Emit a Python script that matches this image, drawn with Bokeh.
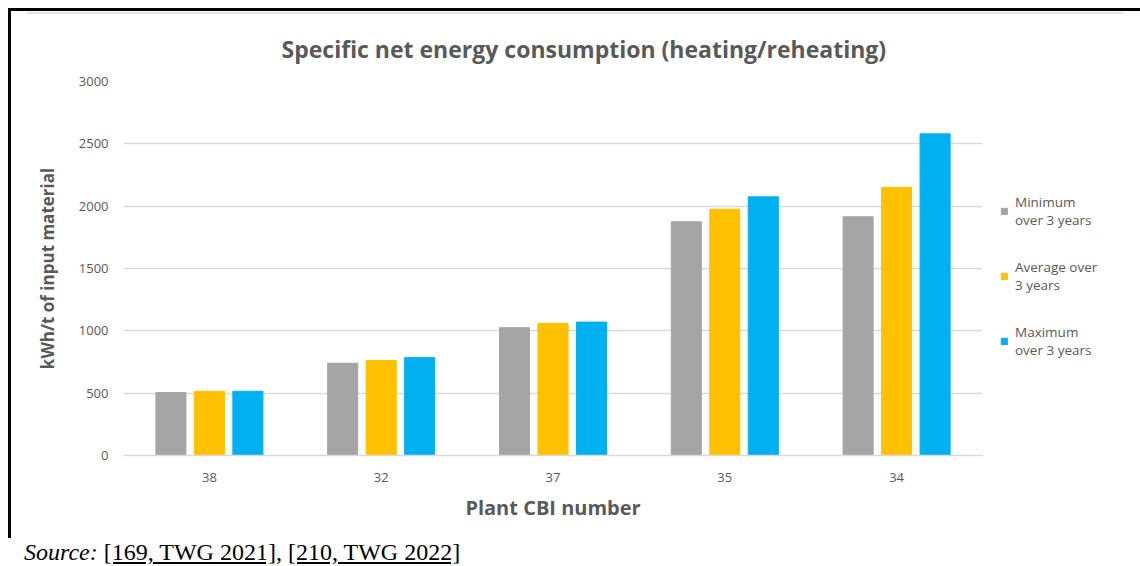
from bokeh.plotting import figure
from bokeh.models import (ColumnDataSource, FactorRange, Range1d, FixedTicker,
                          Legend, LegendItem, Div)
from bokeh.layouts import column, row
from bokeh.transform import dodge
from bokeh.embed import file_html
from bokeh.resources import INLINE

# ---- data ----
plants = ["38", "32", "37", "35", "34"]
minimum = [505, 740, 1025, 1875, 1915]
average = [515, 762, 1060, 1975, 2150]
maximum = [515, 785, 1070, 2075, 2580]
series_names = ["Minimum\nover 3 years", "Average over\n3 years", "Maximum\nover 3 years"]
y_ticks = [0, 500, 1000, 1500, 2000, 2500, 3000]
title_text = "Specific net energy consumption  (heating/reheating)"
source_html = ('<i>Source:</i> <u>[169, TWG 2021]</u>, <u>[210, TWG 2022]</u>')

colors = ["#A5A5A5", "#FFC000", "#00B0F0"]
TXT = "#595959"
FONT = "Open Sans"

src = ColumnDataSource(dict(plant=plants, mn=minimum, av=average, mx=maximum))

# ---- main chart ----
p = figure(width=971, height=524, x_range=FactorRange(*plants, range_padding=0),
           y_range=Range1d(0, 3000), output_backend="svg", toolbar_location=None,
           title=title_text,
           min_border_left=112, min_border_right=0, min_border_top=67, min_border_bottom=83)
p.outline_line_color = None
p.background_fill_color = "white"
p.border_fill_color = "white"

p.title.align = "left"
p.title.offset = 158
p.title.standoff = 33
p.title.text_font = FONT
p.title.text_font_size = "23px"
p.title.text_font_style = "bold"
p.title.text_color = TXT

off = 0.224
w = 0.175
r1 = p.vbar(x=dodge("plant", -off, range=p.x_range), top="mn", width=w, source=src,
            fill_color=colors[0], line_color=colors[0])
r2 = p.vbar(x=dodge("plant", 0, range=p.x_range), top="av", width=w, source=src,
            fill_color=colors[1], line_color=colors[1])
r3 = p.vbar(x=dodge("plant", off, range=p.x_range), top="mx", width=w, source=src,
            fill_color=colors[2], line_color=colors[2])

p.xgrid.grid_line_color = None
p.ygrid.ticker = FixedTicker(ticks=y_ticks)
p.ygrid.grid_line_color = "#D9D9D9"
p.ygrid.grid_line_width = 1.3
p.ygrid.level = "underlay"

p.yaxis.ticker = FixedTicker(ticks=y_ticks)
p.yaxis.axis_line_color = None
p.yaxis.major_tick_line_color = None
p.yaxis.minor_tick_line_color = None
p.yaxis.major_tick_out = 0
p.yaxis.major_tick_in = 0
p.yaxis.major_label_standoff = 15
p.yaxis.major_label_text_font = FONT
p.yaxis.major_label_text_font_size = "13px"
p.yaxis.major_label_text_color = TXT
p.yaxis.axis_label = "kWh/t of input material"
p.yaxis.axis_label_text_font = FONT
p.yaxis.axis_label_text_font_size = "17px"
p.yaxis.axis_label_text_font_style = "bold"
p.yaxis.axis_label_text_color = TXT
p.yaxis.axis_label_standoff = 17

p.xaxis.axis_line_color = "#D9D9D9"
p.xaxis.axis_line_width = 1.5
p.xaxis.major_tick_line_color = None
p.xaxis.minor_tick_line_color = None
p.xaxis.major_tick_out = 0
p.xaxis.major_tick_in = 0
p.xaxis.major_label_standoff = 17
p.xaxis.major_label_text_font = FONT
p.xaxis.major_label_text_font_size = "13px"
p.xaxis.major_label_text_color = TXT
p.xaxis.axis_label = "Plant CBI number"
p.xaxis.axis_label_text_font = FONT
p.xaxis.axis_label_text_font_size = "20px"
p.xaxis.axis_label_text_font_style = "bold"
p.xaxis.axis_label_text_color = TXT
p.xaxis.axis_label_standoff = 9

# ---- legend panel (separate canvas to the right of the plot area) ----
lp = figure(width=158, height=524, x_range=Range1d(0, 1), y_range=Range1d(0, 1),
            x_axis_type=None, y_axis_type=None,
            output_backend="svg", toolbar_location=None,
            min_border_left=0, min_border_right=0, min_border_top=0, min_border_bottom=0)
lp.grid.visible = False
lp.outline_line_color = None
lp.border_fill_color = "white"
# legend-key proxies: one row each, placed outside the visible range
key_src = ColumnDataSource(dict(x=[-5], top=[0]))
leg_rs = [lp.vbar(x="x", top="top", width=0.1, source=key_src, fill_color=c, line_color=c)
          for c in colors]
legend = Legend(items=[LegendItem(label=n, renderers=[r]) for n, r in zip(series_names, leg_rs)],
                location=(18, 96), padding=0, margin=0, spacing=29,
                glyph_width=8, glyph_height=8, label_standoff=7,
                label_text_font=FONT, label_text_font_size="13.5px",
                label_text_color=TXT,
                border_line_color=None, background_fill_alpha=0)
lp.add_layout(legend, "center")

# ---- frame lines (table cell border) and source note ----
top_line = Div(text="", width=1132, height=3, margin=(8, 0, 0, 8),
               styles={"background-color": "black"})
left_line = Div(text="", width=3, height=527, margin=(0, 0, 0, 8),
                styles={"background-color": "black"})
gray_line = Div(text="", width=1097, height=2, margin=(1, 0, 0, 16),
                styles={"background-color": "#E4E4E4"})
source = Div(text=source_html, width=620, height=27, margin=(1, 0, 0, 24),
             styles={"font-family": "Liberation Serif", "font-size": "24px",
                     "line-height": "26px", "color": "black"})

layout = column(top_line, row(left_line, column(gray_line, row(p, lp))), source)

open("out.html", "w").write(file_html(layout, INLINE))
